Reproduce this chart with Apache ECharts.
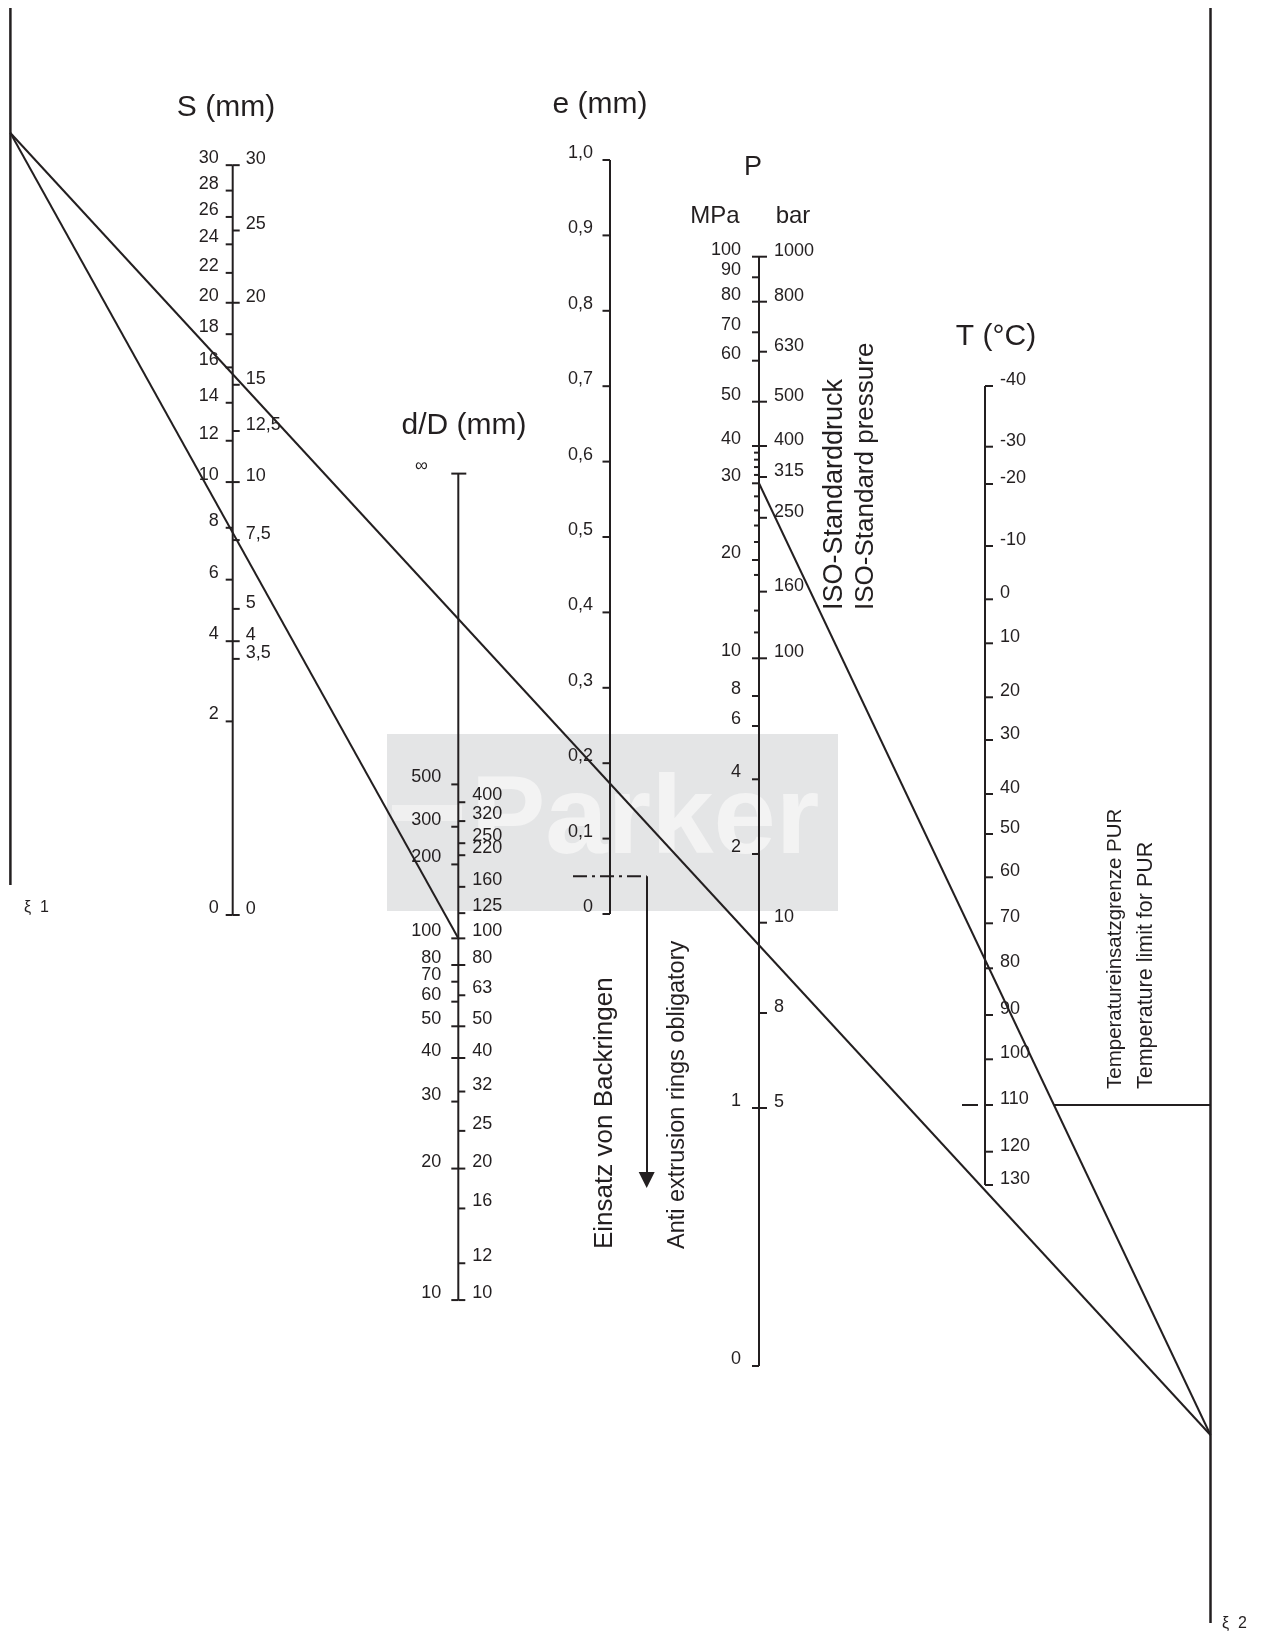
<!DOCTYPE html>
<html><head><meta charset="utf-8">
<script src="https://cdn.jsdelivr.net/npm/echarts@6/dist/echarts.min.js"></script>
<style>html,body{margin:0;padding:0;background:#fff}#c{width:1267px;height:1636px}</style>
</head><body><div id="c"></div>
<script>
// ================= DATA =================
const sLeftTicks  = [0, 2, 4, 6, 8, 10, 12, 14, 16, 18, 20, 22, 24, 26, 28, 30];
const sRightTicks = [3.5, 4, 5, 7.5, 10, 12.5, 15, 20, 25, 30];
const eTicks      = [0, 0.1, 0.2, 0.3, 0.4, 0.5, 0.6, 0.7, 0.8, 0.9, 1.0];
const dLeftTicks  = [10, 20, 30, 40, 50, 60, 70, 80, 100, 200, 300, 500];
const dRightTicks = [10, 12, 16, 20, 25, 32, 40, 50, 63, 80, 100, 125, 160, 220, 250, 320, 400];
const pMpaTicks   = [0, 1, 2, 4, 6, 8, 10, 20, 30, 40, 50, 60, 70, 80, 90, 100];
const pMpaMinor   = [12, 14, 18, 22, 24, 26, 28, 32, 34, 36, 38];
const pBarTicks   = [100, 160, 250, 315, 400, 500, 630, 800, 1000];
const pBarLow     = [5, 8, 10];
const tTicks      = [-40, -30, -20, -10, 0, 10, 20, 30, 40, 50, 60, 70, 80, 90, 100, 110, 120, 130];
const tLimitPUR   = 110;      // temperature limit for PUR (°C)
const eBackupRing = 0.05;     // gap e above which anti-extrusion rings are obligatory (mm)
const isoPressure = 30;       // ISO standard pressure (MPa)
// example solution lines (readings on the reference lines ξ1 / ξ2, 0 = top, 1 = bottom)
const exXi1 = 0.1425, exXi2 = 0.8836, exDiameter = 100;

// ================= SCALE CALIBRATION (layout) =================
const INK = '#231f20';
const FONT = '"Liberation Sans", Arial, Helvetica, sans-serif';
const P_CAL = [[0,1366],[1,1108],[2,854],[4,779.3],[6,726],[8,696],[10,658.3],[20,560],[30,483.3],
  [40,446],[50,401.7],[60,360.7],[70,332.3],[80,301.7],[90,277.3],[100,256.7]];
const BARLOW_CAL = [[5,1108],[8,1013],[10,922.7]];
const T_CAL = [[-40,386],[-30,446.7],[-20,484],[-10,546],[0,599.3],[10,643.3],[20,697.3],[30,740],
  [40,794],[50,834],[60,877.3],[70,923.3],[80,968.3],[90,1015],[100,1059.3],[110,1105],[120,1151.7],[130,1185]];
function interp(cal, v, logMode) {
  const f = x => (logMode && x > 0) ? Math.log(x) : x;
  for (let i = 0; i < cal.length - 1; i++) {
    const a = cal[i], b = cal[i + 1];
    if (v >= a[0] && v <= b[0]) {
      const useLog = logMode && a[0] > 0;
      const t = useLog ? (f(v) - f(a[0])) / (f(b[0]) - f(a[0])) : (v - a[0]) / (b[0] - a[0]);
      return a[1] + t * (b[1] - a[1]);
    }
  }
  return v < cal[0][0] ? cal[0][1] : cal[cal.length - 1][1];
}
const SC = {
  S: { x: 232.7, map: v => 915 - 136.9 * Math.sqrt(v) },
  E: { x: 610, map: v => 914 - 754 * v },
  D: { x: 458.3, map: v => 473.6 + 1469.7 * (isFinite(v) ? Math.pow(v, -0.25) : 0) },
  P: { x: 759, map: v => interp(P_CAL, v, true) },
  T: { x: 985, map: v => interp(T_CAL, v, false) },
  X1: { x: 10.4, map: f => 8 + f * (885 - 8) },
  X2: { x: 1210.5, map: f => 8 + f * (1623 - 8) }
};
SC.B = { x: SC.P.x, map: v => v >= 100 ? SC.P.map(v / 10) : interp(BARLOW_CAL, v, false) };

const fmt = v => String(v).replace('.', ',');
const fmtE = v => v === 0 ? '0' : v.toFixed(1).replace('.', ',');

function tickSeries(scale, values, o) {
  return {
    type: 'custom', coordinateSystem: 'cartesian2d', silent: true, animation: false, z: 5,
    data: values.map(v => [scale.x, scale.map(v), v]),
    encode: { x: 0, y: 1 },
    renderItem: (params, api) => {
      const p = api.coord([api.value(0), api.value(1)]);
      const v = api.value(2);
      const ch = [];
      if (o.tick) ch.push({ type: 'line', shape: { x1: p[0] + o.tick[0], y1: p[1], x2: p[0] + o.tick[1], y2: p[1] },
        style: { stroke: INK, lineWidth: 2 } });
      if (o.label !== false) ch.push({ type: 'text', x: p[0] + o.dx, y: p[1] + o.dy,
        style: { text: (o.fmt || fmt)(v), fill: INK, font: (o.size || 18) + 'px ' + FONT, align: o.align, verticalAlign: 'middle' } });
      return { type: 'group', children: ch };
    }
  };
}
function seg(points, width, extra) {
  return Object.assign({ type: 'line', data: points, symbol: 'none', silent: true, animation: false, z: 4,
    lineStyle: { color: INK, width: width || 2 } }, extra || {});
}
const pt = (s, v) => [s.x, s.map(v)];

// derived geometry of the limit line (intersection of pressure line with T = 110 °C)
const pA = pt(SC.P, isoPressure), pB = pt(SC.X2, exXi2);
const yLim = SC.T.map(tLimitPUR);
const xLim = pA[0] + (yLim - pA[1]) * (pB[0] - pA[0]) / (pB[1] - pA[1]);
const yBack = SC.E.map(eBackupRing);

const series = [
  seg([pt(SC.X1, 0), pt(SC.X1, 1)], 2.5),
  seg([pt(SC.X2, 0), pt(SC.X2, 1)], 2.5),
  seg([pt(SC.S, 0), pt(SC.S, 30)]),
  seg([pt(SC.E, 0), pt(SC.E, 1)]),
  seg([pt(SC.D, 10), pt(SC.D, Infinity)]),
  seg([pt(SC.P, 0), pt(SC.P, 100)]),
  seg([pt(SC.T, -40), pt(SC.T, 130)]),
  seg([pt(SC.X1, exXi1), pt(SC.D, exDiameter)]),
  seg([pt(SC.X1, exXi1), pt(SC.X2, exXi2)]),
  seg([pA, pB]),
  seg([[xLim, yLim], [SC.X2.x, yLim]]),
  seg([[573, yBack], [646.7, yBack]], 2, { lineStyle: { color: INK, width: 2, type: [14, 5, 3, 5] } }),
  { type: 'lines', coordinateSystem: 'cartesian2d', silent: true, animation: false, z: 4,
    symbol: ['none', 'triangle'], symbolSize: [13, 16],
    lineStyle: { color: INK, width: 2, opacity: 1 }, itemStyle: { color: INK },
    data: [{ coords: [[646.7, yBack], [646.7, 1180]] }] },
  tickSeries(SC.S, sLeftTicks, { tick: [-7, 0], dx: -14, dy: -7, align: 'right' }),
  tickSeries(SC.S, sRightTicks.concat([0]), { tick: [0, 7], dx: 13, dy: -6, align: 'left' }),
  tickSeries(SC.E, eTicks, { tick: [-7.5, 0], dx: -17, dy: -7, align: 'right', fmt: fmtE }),
  tickSeries(SC.D, dLeftTicks, { tick: [-7, 0], dx: -17, dy: -7, align: 'right' }),
  tickSeries(SC.D, dRightTicks, { tick: [0, 7], dx: 14, dy: -7, align: 'left' }),
  tickSeries(SC.D, [Infinity], { tick: [-7, 8], dx: -37, dy: -8, align: 'center', fmt: () => '∞' }),
  tickSeries(SC.P, pMpaTicks, { tick: [-7, 0], dx: -18, dy: -7, align: 'right' }),
  tickSeries(SC.P, pMpaMinor, { tick: [-5, 0], label: false }),
  tickSeries(SC.B, pBarTicks.concat(pBarLow), { tick: [0, 8], dx: 15, dy: -6, align: 'left' }),
  tickSeries(SC.T, tTicks, { tick: [0, 8], dx: 15, dy: -6, align: 'left' }),
  tickSeries(SC.T, [tLimitPUR], { tick: [-23, -7], label: false })
];

const titles = [
  ['S (mm)', 226, 108, 30], ['e (mm)', 600, 105, 30], ['P', 753, 168, 27], ['MPa', 715, 216, 24],
  ['bar', 793, 216, 24], ['d/D (mm)', 464, 426, 30], ['T (°C)', 996, 337, 30]
];
const rotated = [
  ['ISO-Standarddruck', 835, 610, 27], ['ISO-Standard pressure', 866, 610, 26],
  ['Einsatz von Backringen', 605, 1249, 26], ['Anti extrusion rings obligatory', 678, 1249, 23.5],
  ['Temperatureinsatzgrenze PUR', 1115, 1089, 20.5], ['Temperature limit for PUR', 1146, 1089, 21.5]
];
const graphic = [
  { type: 'rect', shape: { x: 387, y: 734, width: 451, height: 177 }, style: { fill: '#e4e5e6' }, z: 0, silent: true },
  { type: 'text', x: 645, y: 822, style: { text: 'Parker', fill: '#f3f3f3', font: 'bold 112px ' + FONT, align: 'center', verticalAlign: 'middle' }, z: 0, silent: true },
  { type: 'rect', shape: { x: 392, y: 805, width: 70, height: 16 }, style: { fill: '#f0f0f0' }, z: 0, silent: true }
].concat(titles.map(t => ({ type: 'text', x: t[1], y: t[2], silent: true, z: 10,
  style: { text: t[0], fill: INK, font: t[3] + 'px ' + FONT, align: 'center', verticalAlign: 'middle' } })))
 .concat(rotated.map(t => ({ type: 'text', x: t[1], y: t[2], rotation: Math.PI / 2, silent: true, z: 10,
  style: { text: t[0], fill: INK, font: t[3] + 'px ' + FONT, align: 'left', verticalAlign: 'middle' } })))
 .concat([
  { type: 'text', x: 24, y: 908, style: { text: 'ξ  1', fill: INK, font: '16px ' + FONT, align: 'left', verticalAlign: 'middle' }, z: 10 },
  { type: 'text', x: 1222, y: 1624, style: { text: 'ξ  2', fill: INK, font: '16px ' + FONT, align: 'left', verticalAlign: 'middle' }, z: 10 }
 ]);

const chart = echarts.init(document.getElementById('c'), null, { renderer: 'canvas' });
chart.setOption({
  animation: false,
  backgroundColor: '#fff',
  grid: { left: 0, top: 0, right: 0, bottom: 0 },
  xAxis: { type: 'value', min: 0, max: 1267, show: false },
  yAxis: { type: 'value', min: 0, max: 1636, inverse: true, show: false },
  graphic: graphic,
  series: series
});
</script></body></html>
